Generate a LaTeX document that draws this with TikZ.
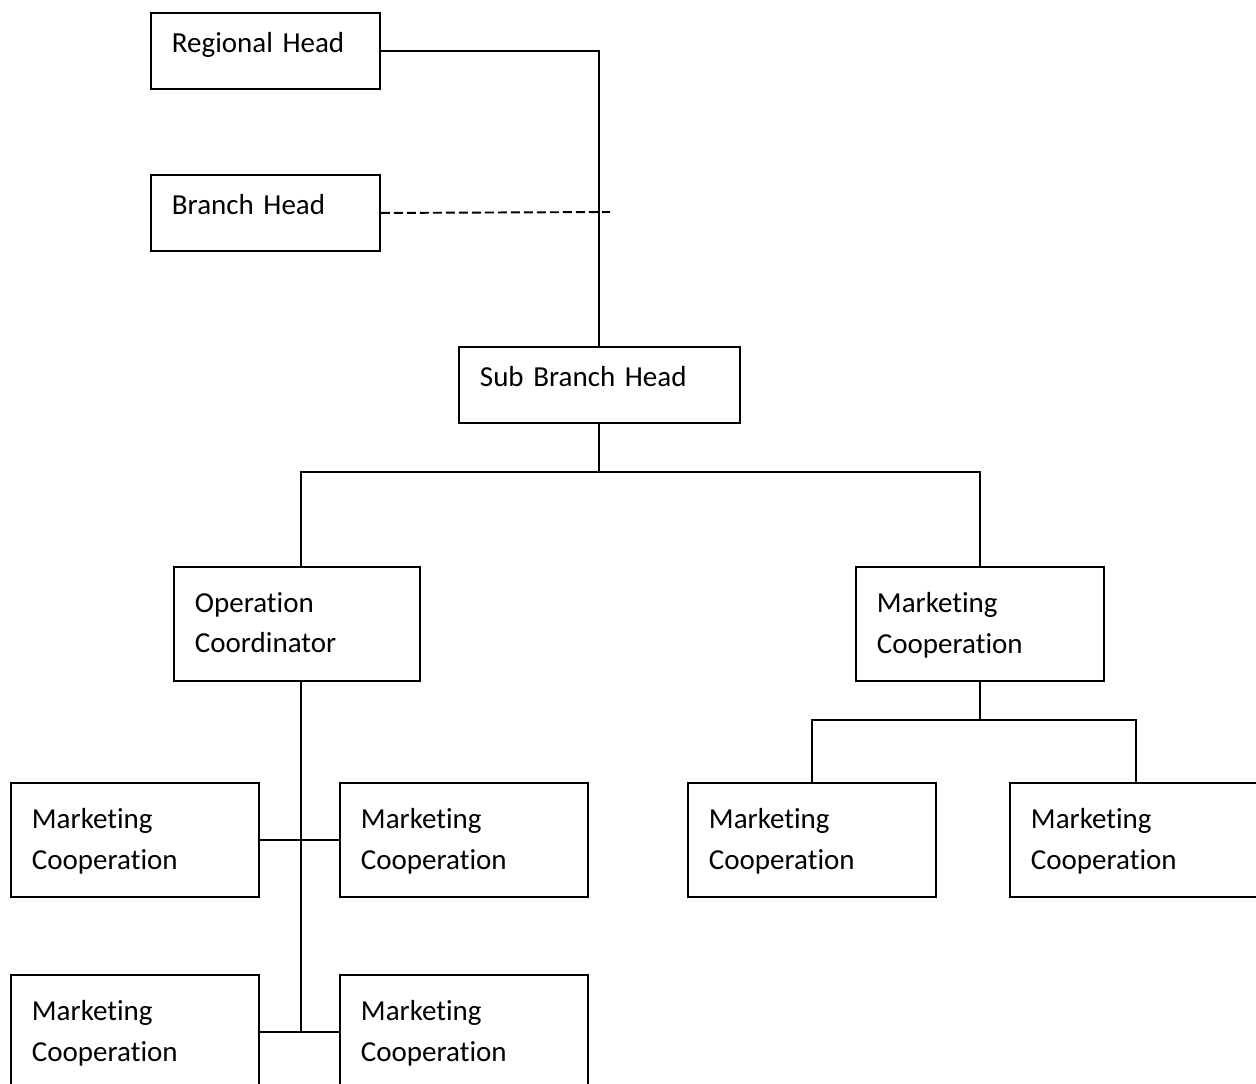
\documentclass[tikz,border=0pt]{standalone}
\usepackage{fontspec}
\setmainfont{Carlito}[Ligatures=NoCommon]
\usetikzlibrary{positioning}

\begin{document}
\begin{tikzpicture}[
  x=0.02cm, y=-0.02cm,
  unit/.style={rectangle, draw, line width=1.1pt, anchor=north west,
               inner xsep=0.42cm, align=left,
               font=\fontsize{16.5}{23.2}\selectfont},
  onerow/.style={unit, text width=#1, minimum height=1.52cm,
                 text height=0.45cm, text depth=0.39cm},
  tworow/.style={unit, text width=#1, minimum height=2.28cm,
                 text depth=0.87cm},
  link/.style={line width=1.1pt},
  dotlink/.style={line width=1.1pt, dash pattern=on 0.18cm off 0.08cm}
]
\useasboundingbox (0,0) rectangle (1256,1083);

% Upper levels
\node[onerow=3.74cm] (rh)  at (150,12)  {Regional Head};
\node[onerow=3.74cm] (bh)  at (150,174) {Branch Head};
\node[onerow=4.78cm] (sbh) at (458,346) {Sub Branch Head};

% Second level
\node[tworow=4.08cm] (oc)  at (173,566) {Operation\\Coordinator};
\node[tworow=4.12cm] (mcr) at (855,566) {Marketing\\Cooperation};

% Staff under the coordinator
\node[tworow=4.12cm] (mc1) at (10,782)  {Marketing\\Cooperation};
\node[tworow=4.12cm] (mc2) at (339,782) {Marketing\\Cooperation};
\node[tworow=4.12cm] (mc3) at (10,974)  {Marketing\\Cooperation};
\node[tworow=4.12cm] (mc4) at (339,974) {Marketing\\Cooperation};

% Staff under marketing
\node[tworow=4.12cm] (mc5) at (687,782)  {Marketing\\Cooperation};
\node[tworow=4.2cm]  (mc6) at (1009,782) {Marketing\\Cooperation};

% Lines
\coordinate (dashend) at (610,212);
\coordinate (lvl1)    at (0,472);
\coordinate (lvl2)    at (0,720);
\coordinate (octop)   at (301,566);
\coordinate (ocbot)   at (301,680);

\draw[link] (rh.east) -| (sbh.north);
\draw[dotlink] (bh.east) -- (dashend);
\draw[link] (sbh.south) -- (sbh.south |- lvl1) -| (octop);
\draw[link] (sbh.south |- lvl1) -| (mcr.north);
\draw[link] (ocbot) -- (ocbot |- mc3.east);
\draw[link] (mc1.east) -- (mc2.west);
\draw[link] (mc3.east) -- (mc4.west);
\draw[link] (mcr.south) -- (mcr.south |- lvl2);
\draw[link] (mc5.north) |- (mcr.south |- lvl2) -| (mc6.north);

\end{tikzpicture}
\end{document}
